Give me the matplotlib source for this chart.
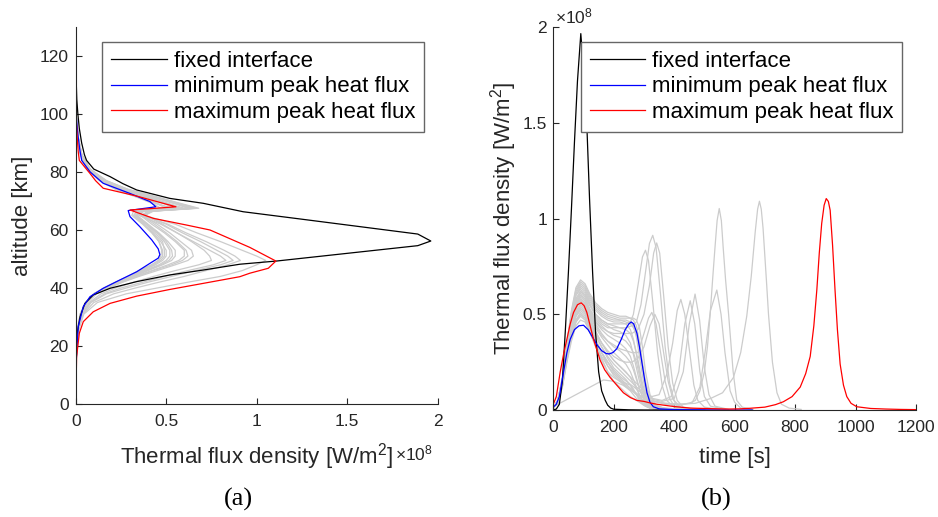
import matplotlib
matplotlib.use("Agg")
import matplotlib.pyplot as plt

plt.rcParams['font.family'] = ['Liberation Sans', 'DejaVu Sans']
plt.rcParams['mathtext.fontset'] = 'custom'
plt.rcParams['mathtext.rm'] = 'Liberation Sans'
plt.rcParams['mathtext.it'] = 'Liberation Sans:italic'
plt.rcParams['mathtext.bf'] = 'Liberation Sans:bold'

# ---------------- panel (a): flux [1e8 W/m^2] against altitude [km]
alt_fixed = [130, 115, 105, 100, 95, 90, 86, 84, 81, 78.4, 76, 73.8, 70.9, 69.2, 66.3, 63.8, 58.6, 56.2,
             54.6, 49.3, 48.2, 46.2, 44.5, 42.2, 39.9, 37.6, 34.7, 30.1, 23.2, 15, 0]
flux_fixed = [0, 0.001, 0.006, 0.012, 0.02, 0.033, 0.048, 0.06, 0.1, 0.19, 0.26, 0.337, 0.52, 0.705, 0.925, 1.24,
              1.89, 1.962, 1.89, 1.11, 0.907, 0.705, 0.52, 0.337, 0.19, 0.097, 0.051, 0.024, 0.005, 0.001, 0]

alt_min = [99, 93, 88, 84, 80, 76.1, 72.6, 69.8, 68.0, 67.3, 66.7, 64.6, 61.1, 56.6, 53.5, 51.5, 50.3, 48.5,
           45.6, 42.8, 39.9, 37, 33.6, 26.7, 14, 0]
flux_min = [0.003, 0.012, 0.022, 0.033, 0.08, 0.152, 0.3, 0.41, 0.443, 0.36, 0.29, 0.3, 0.355, 0.42, 0.456,
            0.465, 0.456, 0.41, 0.337, 0.245, 0.152, 0.079, 0.042, 0.014, 0.002, 0]

alt_max = [98, 92, 87, 84, 79.5, 77, 74.4, 71.7, 68.0, 67.4, 66.9, 64.0, 61.7, 60.0, 54.0, 49.3, 46.8, 45.1,
           43.9, 41.6, 39.5, 37.2, 34.7, 31.8, 28.4, 24.4, 16.3, 0]
flux_max = [0.003, 0.008, 0.014, 0.02, 0.079, 0.11, 0.152, 0.337, 0.554, 0.42, 0.3, 0.43, 0.613, 0.742, 0.962,
            1.106, 1.064, 0.962, 0.907, 0.705, 0.52, 0.337, 0.19, 0.097, 0.042, 0.02, 0.005, 0]

alt_grid = [100, 92, 86, 81, 77, 74, 71, 69, 67.5, 66.5, 65, 62, 59, 56, 53, 51, 49.5, 48, 46, 44, 42, 40,
            38, 35, 31, 25, 15, 0]
gray_alt_flux = [
    [0.002, 0.01, 0.025, 0.06, 0.13, 0.22, 0.35, 0.43, 0.47, 0.32, 0.31, 0.37, 0.42, 0.46, 0.48, 0.48, 0.46, 0.42, 0.35, 0.29, 0.22, 0.155, 0.10, 0.055, 0.025, 0.008, 0.002, 0],
    [0.002, 0.011, 0.027, 0.065, 0.14, 0.24, 0.37, 0.45, 0.50, 0.34, 0.32, 0.38, 0.43, 0.47, 0.50, 0.50, 0.48, 0.44, 0.37, 0.30, 0.23, 0.16, 0.10, 0.056, 0.026, 0.008, 0.002, 0],
    [0.002, 0.012, 0.03, 0.07, 0.15, 0.25, 0.40, 0.49, 0.55, 0.36, 0.33, 0.39, 0.45, 0.49, 0.52, 0.52, 0.50, 0.46, 0.38, 0.31, 0.235, 0.165, 0.105, 0.058, 0.027, 0.009, 0.002, 0],
    [0.002, 0.012, 0.03, 0.07, 0.15, 0.26, 0.42, 0.52, 0.60, 0.38, 0.34, 0.40, 0.46, 0.51, 0.55, 0.55, 0.53, 0.48, 0.40, 0.32, 0.24, 0.17, 0.11, 0.06, 0.028, 0.009, 0.002, 0],
    [0.002, 0.013, 0.032, 0.075, 0.16, 0.27, 0.44, 0.55, 0.62, 0.40, 0.36, 0.42, 0.49, 0.55, 0.60, 0.60, 0.57, 0.51, 0.42, 0.33, 0.25, 0.175, 0.11, 0.062, 0.03, 0.01, 0.002, 0],
    [0.002, 0.013, 0.033, 0.078, 0.16, 0.28, 0.46, 0.57, 0.65, 0.42, 0.37, 0.45, 0.52, 0.58, 0.64, 0.65, 0.62, 0.55, 0.45, 0.35, 0.26, 0.18, 0.115, 0.065, 0.03, 0.01, 0.002, 0],
    [0.002, 0.014, 0.034, 0.08, 0.17, 0.29, 0.47, 0.59, 0.68, 0.43, 0.38, 0.48, 0.56, 0.64, 0.71, 0.74, 0.75, 0.68, 0.55, 0.43, 0.32, 0.22, 0.14, 0.075, 0.034, 0.011, 0.002, 0],
    [0.002, 0.012, 0.03, 0.07, 0.15, 0.26, 0.42, 0.51, 0.58, 0.37, 0.35, 0.47, 0.56, 0.65, 0.74, 0.80, 0.83, 0.76, 0.62, 0.49, 0.37, 0.25, 0.16, 0.08, 0.036, 0.012, 0.002, 0],
    [0.002, 0.013, 0.033, 0.078, 0.16, 0.28, 0.46, 0.57, 0.66, 0.42, 0.38, 0.50, 0.59, 0.69, 0.78, 0.84, 0.87, 0.80, 0.66, 0.53, 0.40, 0.28, 0.17, 0.085, 0.038, 0.012, 0.002, 0],
    [0.002, 0.013, 0.033, 0.077, 0.16, 0.28, 0.45, 0.56, 0.64, 0.41, 0.37, 0.51, 0.61, 0.72, 0.82, 0.88, 0.91, 0.84, 0.72, 0.60, 0.46, 0.33, 0.21, 0.10, 0.04, 0.013, 0.002, 0],
    [0.002, 0.014, 0.034, 0.08, 0.17, 0.29, 0.47, 0.58, 0.67, 0.42, 0.38, 0.55, 0.67, 0.80, 0.92, 1.00, 1.05, 1.00, 0.92, 0.80, 0.62, 0.45, 0.28, 0.12, 0.045, 0.014, 0.003, 0],
    [0.002, 0.011, 0.028, 0.066, 0.14, 0.24, 0.38, 0.46, 0.52, 0.35, 0.33, 0.39, 0.44, 0.48, 0.49, 0.49, 0.47, 0.43, 0.36, 0.30, 0.225, 0.16, 0.10, 0.056, 0.026, 0.008, 0.002, 0],
    [0.002, 0.012, 0.03, 0.07, 0.15, 0.255, 0.41, 0.50, 0.57, 0.37, 0.335, 0.395, 0.455, 0.50, 0.53, 0.535, 0.515, 0.47, 0.39, 0.315, 0.237, 0.167, 0.107, 0.059, 0.027, 0.009, 0.002, 0],
    [0.002, 0.013, 0.032, 0.076, 0.16, 0.275, 0.45, 0.56, 0.63, 0.41, 0.365, 0.435, 0.50, 0.56, 0.61, 0.62, 0.59, 0.53, 0.43, 0.34, 0.255, 0.178, 0.112, 0.063, 0.03, 0.01, 0.002, 0],
    [0.002, 0.011, 0.027, 0.064, 0.135, 0.23, 0.37, 0.45, 0.53, 0.34, 0.32, 0.375, 0.425, 0.46, 0.475, 0.47, 0.455, 0.42, 0.35, 0.29, 0.22, 0.155, 0.10, 0.055, 0.025, 0.008, 0.002, 0],
]

# ---------------- panel (b): flux [1e8 W/m^2] against time [s]
t_fixed = [0, 10, 20, 30, 40, 50, 60, 70, 80, 91, 100, 110, 120, 130, 140, 150, 160, 172, 180, 190, 200, 250, 300, 400]
q_fixed = [0, 0.005, 0.03, 0.15, 0.42, 0.72, 1.05, 1.4, 1.72, 1.967, 1.78, 1.53, 1.1, 0.72, 0.4, 0.2, 0.1, 0.05,
           0.025, 0.01, 0.004, 0.001, 0, 0]

t_min = [0, 10, 20, 34, 45, 56, 70, 85, 100, 115, 130, 145, 160, 175, 185, 197, 210, 225, 238, 250, 258, 266, 277,
         285, 293, 302, 310, 320, 331, 350, 400, 500, 600, 658]
q_min = [0.015, 0.03, 0.07, 0.2, 0.3, 0.37, 0.42, 0.44, 0.443, 0.42, 0.38, 0.34, 0.31, 0.295, 0.293, 0.30, 0.32,
         0.37, 0.42, 0.45, 0.46, 0.45, 0.40, 0.33, 0.25, 0.16, 0.09, 0.04, 0.017, 0.006, 0.002, 0.001, 0, 0]

t_max = [0, 10, 23, 35, 45, 56, 67, 80, 92, 102, 111, 122, 133, 145, 155, 170, 188, 210, 232, 255, 277, 300, 320,
         343, 400, 453, 520, 580, 618, 651, 700, 735, 761, 790, 817, 835, 850, 862, 872, 880, 888, 896, 903, 910,
         916, 924, 932, 940, 949, 960, 971, 985, 1004, 1050, 1100, 1150, 1200]
q_max = [0.03, 0.07, 0.2, 0.3, 0.37, 0.45, 0.51, 0.55, 0.56, 0.545, 0.51, 0.44, 0.37, 0.31, 0.26, 0.21, 0.17,
         0.13, 0.09, 0.065, 0.05, 0.045, 0.037, 0.03, 0.018, 0.01, 0.007, 0.005, 0.006, 0.009, 0.015, 0.028,
         0.043, 0.07, 0.12, 0.19, 0.28, 0.44, 0.63, 0.82, 0.975, 1.07, 1.105, 1.09, 1.044, 0.86, 0.63, 0.42,
         0.24, 0.13, 0.07, 0.035, 0.017, 0.008, 0.005, 0.003, 0.002]

# runs with a single hump and a plateau, on one time grid
t_grid = [0, 15, 30, 45, 60, 75, 90, 105, 120, 140, 160, 180, 200, 220, 240, 255, 265, 275, 285, 295, 305, 320,
          340, 370, 420, 500]
gray_q_grid = [
    [0.01, 0.05, 0.17, 0.35, 0.52, 0.64, 0.68, 0.66, 0.61, 0.56, 0.53, 0.51, 0.50, 0.49, 0.49, 0.48, 0.47, 0.44, 0.36, 0.25, 0.15, 0.06, 0.02, 0.008, 0.003, 0.001],
    [0.01, 0.05, 0.16, 0.34, 0.50, 0.62, 0.66, 0.64, 0.59, 0.54, 0.51, 0.49, 0.48, 0.47, 0.47, 0.46, 0.44, 0.38, 0.28, 0.18, 0.10, 0.04, 0.015, 0.006, 0.002, 0.001],
    [0.01, 0.05, 0.16, 0.33, 0.49, 0.60, 0.64, 0.62, 0.57, 0.52, 0.49, 0.47, 0.46, 0.46, 0.45, 0.42, 0.37, 0.29, 0.20, 0.12, 0.07, 0.03, 0.012, 0.005, 0.002, 0.001],
    [0.01, 0.05, 0.15, 0.32, 0.47, 0.58, 0.62, 0.60, 0.55, 0.49, 0.46, 0.44, 0.42, 0.41, 0.39, 0.35, 0.29, 0.22, 0.15, 0.09, 0.05, 0.02, 0.01, 0.004, 0.002, 0.001],
    [0.01, 0.04, 0.15, 0.31, 0.46, 0.56, 0.60, 0.58, 0.52, 0.46, 0.42, 0.39, 0.37, 0.35, 0.32, 0.28, 0.23, 0.17, 0.11, 0.07, 0.04, 0.018, 0.008, 0.003, 0.001, 0],
    [0.01, 0.04, 0.14, 0.30, 0.44, 0.54, 0.58, 0.56, 0.50, 0.43, 0.38, 0.34, 0.30, 0.27, 0.24, 0.20, 0.16, 0.12, 0.08, 0.05, 0.03, 0.014, 0.006, 0.003, 0.001, 0],
    [0.01, 0.04, 0.14, 0.29, 0.42, 0.52, 0.55, 0.53, 0.47, 0.39, 0.33, 0.27, 0.22, 0.19, 0.16, 0.13, 0.10, 0.08, 0.06, 0.04, 0.025, 0.012, 0.005, 0.002, 0.001, 0],
    [0.01, 0.04, 0.13, 0.27, 0.40, 0.49, 0.52, 0.50, 0.44, 0.35, 0.27, 0.20, 0.15, 0.12, 0.09, 0.07, 0.06, 0.05, 0.04, 0.03, 0.02, 0.01, 0.005, 0.002, 0.001, 0],
    [0.01, 0.04, 0.13, 0.26, 0.38, 0.46, 0.49, 0.47, 0.41, 0.33, 0.26, 0.20, 0.17, 0.15, 0.14, 0.13, 0.11, 0.08, 0.05, 0.03, 0.02, 0.01, 0.004, 0.002, 0.001, 0],
    [0.01, 0.05, 0.16, 0.33, 0.49, 0.60, 0.63, 0.61, 0.56, 0.50, 0.47, 0.45, 0.44, 0.43, 0.42, 0.40, 0.36, 0.30, 0.22, 0.14, 0.08, 0.03, 0.012, 0.005, 0.002, 0.001],
    [0.01, 0.05, 0.17, 0.35, 0.51, 0.63, 0.67, 0.65, 0.60, 0.55, 0.52, 0.50, 0.49, 0.48, 0.48, 0.48, 0.48, 0.47, 0.43, 0.33, 0.20, 0.08, 0.025, 0.008, 0.003, 0.001],
    [0.01, 0.05, 0.16, 0.34, 0.50, 0.61, 0.65, 0.63, 0.58, 0.53, 0.50, 0.48, 0.47, 0.47, 0.46, 0.45, 0.43, 0.40, 0.33, 0.23, 0.14, 0.05, 0.018, 0.007, 0.002, 0.001],
    [0.01, 0.05, 0.15, 0.32, 0.47, 0.57, 0.61, 0.59, 0.53, 0.47, 0.44, 0.41, 0.39, 0.38, 0.36, 0.33, 0.30, 0.25, 0.18, 0.11, 0.06, 0.025, 0.01, 0.004, 0.002, 0.001],
    [0.01, 0.04, 0.15, 0.31, 0.45, 0.55, 0.59, 0.57, 0.51, 0.45, 0.40, 0.36, 0.33, 0.31, 0.28, 0.25, 0.21, 0.16, 0.11, 0.07, 0.04, 0.018, 0.008, 0.003, 0.001, 0],
    [0.01, 0.04, 0.14, 0.29, 0.43, 0.53, 0.57, 0.55, 0.49, 0.41, 0.35, 0.30, 0.26, 0.23, 0.20, 0.17, 0.14, 0.11, 0.08, 0.05, 0.03, 0.014, 0.006, 0.003, 0.001, 0],
    [0.01, 0.04, 0.13, 0.28, 0.41, 0.50, 0.54, 0.52, 0.46, 0.37, 0.30, 0.23, 0.18, 0.15, 0.12, 0.10, 0.08, 0.06, 0.05, 0.035, 0.022, 0.011, 0.005, 0.002, 0.001, 0],
]

# runs with a second (later) peak, each with its own times
gray_t_late = [
    [0, 15, 30, 45, 60, 75, 90, 105, 120, 140, 160, 180, 200, 220, 240, 255, 265, 280, 295, 305, 315, 330, 345, 360, 375, 400, 450],
    [0, 15, 30, 45, 60, 75, 90, 105, 120, 140, 160, 180, 200, 220, 240, 260, 275, 290, 305, 318, 329, 340, 355, 370, 385, 400, 420, 470],
    [0, 15, 30, 45, 60, 75, 90, 105, 120, 140, 160, 180, 200, 220, 240, 260, 280, 300, 318, 332, 342, 352, 365, 380, 395, 410, 430, 480],
    [0, 15, 30, 45, 60, 75, 90, 105, 120, 140, 160, 180, 200, 220, 240, 260, 280, 300, 315, 326, 340, 355, 370, 385, 400, 450],
    [0, 15, 30, 45, 60, 75, 90, 105, 120, 140, 160, 180, 200, 220, 240, 260, 280, 300, 320, 336, 350, 365, 380, 395, 410, 450],
    [0, 15, 30, 45, 60, 75, 90, 105, 120, 140, 160, 180, 200, 225, 250, 275, 300, 325, 350, 376, 395, 410, 422, 435, 453, 465, 478, 500, 550],
    [0, 15, 30, 45, 60, 75, 90, 105, 120, 140, 160, 180, 200, 225, 250, 275, 300, 330, 360, 390, 415, 435, 453, 468, 485, 500, 520, 570],
    [0, 15, 30, 45, 60, 75, 90, 105, 120, 140, 160, 180, 200, 225, 250, 275, 300, 330, 360, 400, 430, 450, 469, 484, 500, 515, 535, 580],
    [0, 15, 30, 45, 60, 75, 90, 105, 120, 140, 160, 180, 200, 225, 250, 280, 320, 370, 420, 460, 485, 502, 520, 541, 555, 568, 585, 600, 620, 660],
    [0, 15, 30, 45, 60, 75, 90, 105, 120, 140, 160, 180, 200, 225, 250, 280, 320, 370, 420, 450, 470, 485, 500, 510, 519, 527, 535, 542, 549, 556, 562, 570, 580, 595, 607, 625, 660],
    [0, 15, 30, 45, 60, 75, 90, 105, 120, 140, 160, 180, 200, 225, 250, 280, 320, 370, 420, 470, 520, 560, 596, 620, 640, 655, 668, 676, 682, 688, 694, 705, 712, 725, 740, 755, 780, 820],
    [0, 166, 200, 230, 260, 290, 320, 360, 420, 500],
]
gray_q_late = [
    [0.01, 0.05, 0.16, 0.33, 0.48, 0.58, 0.62, 0.60, 0.55, 0.50, 0.47, 0.45, 0.45, 0.45, 0.45, 0.46, 0.50, 0.65, 0.80, 0.835, 0.78, 0.55, 0.30, 0.13, 0.05, 0.015, 0.003],
    [0.01, 0.05, 0.15, 0.32, 0.46, 0.56, 0.60, 0.58, 0.53, 0.48, 0.45, 0.43, 0.43, 0.43, 0.43, 0.44, 0.46, 0.55, 0.72, 0.87, 0.913, 0.85, 0.60, 0.33, 0.14, 0.05, 0.015, 0.003],
    [0.01, 0.05, 0.15, 0.31, 0.45, 0.55, 0.58, 0.56, 0.51, 0.46, 0.43, 0.41, 0.40, 0.40, 0.40, 0.40, 0.42, 0.50, 0.65, 0.82, 0.873, 0.82, 0.60, 0.33, 0.14, 0.05, 0.015, 0.003],
    [0.01, 0.04, 0.14, 0.30, 0.44, 0.53, 0.57, 0.55, 0.50, 0.44, 0.39, 0.36, 0.34, 0.32, 0.31, 0.30, 0.30, 0.40, 0.48, 0.51, 0.45, 0.30, 0.15, 0.06, 0.02, 0.004],
    [0.01, 0.04, 0.13, 0.28, 0.41, 0.50, 0.53, 0.51, 0.46, 0.40, 0.35, 0.31, 0.28, 0.26, 0.25, 0.25, 0.27, 0.33, 0.44, 0.50, 0.45, 0.30, 0.15, 0.06, 0.02, 0.004],
    [0.01, 0.04, 0.14, 0.29, 0.42, 0.51, 0.55, 0.53, 0.48, 0.41, 0.35, 0.30, 0.26, 0.22, 0.18, 0.14, 0.10, 0.07, 0.08, 0.19, 0.35, 0.52, 0.578, 0.50, 0.28, 0.13, 0.05, 0.015, 0.003],
    [0.01, 0.04, 0.13, 0.28, 0.41, 0.49, 0.53, 0.51, 0.46, 0.39, 0.33, 0.28, 0.24, 0.20, 0.16, 0.12, 0.09, 0.06, 0.05, 0.07, 0.20, 0.45, 0.571, 0.45, 0.20, 0.07, 0.02, 0.003],
    [0.01, 0.04, 0.13, 0.27, 0.39, 0.47, 0.50, 0.48, 0.43, 0.36, 0.30, 0.25, 0.21, 0.17, 0.14, 0.11, 0.08, 0.055, 0.045, 0.06, 0.20, 0.45, 0.606, 0.47, 0.22, 0.08, 0.02, 0.003],
    [0.01, 0.04, 0.13, 0.27, 0.39, 0.47, 0.51, 0.49, 0.44, 0.37, 0.30, 0.25, 0.20, 0.16, 0.12, 0.08, 0.05, 0.03, 0.025, 0.04, 0.12, 0.30, 0.52, 0.627, 0.50, 0.30, 0.10, 0.04, 0.01, 0.002],
    [0.01, 0.04, 0.12, 0.26, 0.38, 0.46, 0.50, 0.48, 0.43, 0.36, 0.30, 0.25, 0.20, 0.16, 0.12, 0.08, 0.05, 0.035, 0.03, 0.035, 0.05, 0.10, 0.20, 0.33, 0.50, 0.68, 0.85, 0.99, 1.053, 0.99, 0.85, 0.68, 0.50, 0.20, 0.05, 0.015, 0.003],
    [0.01, 0.04, 0.12, 0.25, 0.36, 0.44, 0.47, 0.46, 0.41, 0.34, 0.28, 0.23, 0.19, 0.15, 0.11, 0.08, 0.05, 0.035, 0.03, 0.035, 0.06, 0.09, 0.17, 0.30, 0.49, 0.70, 0.93, 1.05, 1.091, 1.05, 0.95, 0.68, 0.50, 0.25, 0.09, 0.03, 0.01, 0.003],
    [0.017, 0.157, 0.15, 0.13, 0.10, 0.06, 0.03, 0.012, 0.004, 0.001],
]

labels = ["fixed interface", "minimum peak heat flux", "maximum peak heat flux"]

GRAY = '#cccccc'
AXC = '#262626'
LW = 0.9
W, H = 938, 517


def style(ax, ypad):
    for s in ['top', 'right']:
        ax.spines[s].set_visible(False)
    for s in ['left', 'bottom']:
        ax.spines[s].set_color(AXC)
        ax.spines[s].set_linewidth(0.8)
    ax.tick_params(direction='in', length=4, width=0.8, colors=AXC, labelsize=12.5)
    ax.tick_params(axis='x', pad=7)
    ax.tick_params(axis='y', pad=ypad)


def add_legend(ax, handles, anchor):
    leg = ax.legend(handles, labels, loc='upper right', bbox_to_anchor=anchor, fontsize=16,
                    fancybox=False, framealpha=1, edgecolor='#666666', handlelength=2.5,
                    handletextpad=0.3, labelspacing=0.2, borderpad=0.4, borderaxespad=0)
    leg.get_frame().set_linewidth(1.0)


fig = plt.figure(figsize=(W / 100, H / 100), dpi=100)

# (a)
ax1 = fig.add_axes([75.7 / W, 1 - 404 / H, 362 / W, 377 / H])
for q in gray_alt_flux:
    ax1.plot(q, alt_grid, color=GRAY, lw=LW)
h1, = ax1.plot(flux_fixed, alt_fixed, color='k', lw=LW)
h2, = ax1.plot(flux_min, alt_min, color='b', lw=LW)
h3, = ax1.plot(flux_max, alt_max, color='r', lw=LW)
ax1.set_xlim(0, 2)
ax1.set_ylim(0, 130)
ax1.set_xticks([0, 0.5, 1, 1.5, 2])
ax1.set_xticklabels(['0', '0.5', '1', '1.5', '2'])
ax1.set_yticks([0, 20, 40, 60, 80, 100, 120])
style(ax1, 5)
ax1.set_ylabel('altitude [km]', fontsize=16, color=AXC, labelpad=5)
ax1.set_xlabel(r'Thermal flux density [W/m$^2$]', fontsize=16, color=AXC, labelpad=9)
add_legend(ax1, [h1, h2, h3], (0.962, 0.960))
fig.text(395 / W, 1 - 453 / H, r'$\times10^{8}$', fontsize=12.5, color=AXC, ha='left', va='center')

# (b)
ax2 = fig.add_axes([553.3 / W, 1 - 410 / H, 362.7 / W, 382.7 / H])
for q in gray_q_grid:
    ax2.plot(t_grid, q, color=GRAY, lw=LW)
for t, q in zip(gray_t_late, gray_q_late):
    ax2.plot(t, q, color=GRAY, lw=LW)
g1, = ax2.plot(t_fixed, q_fixed, color='k', lw=LW)
g2, = ax2.plot(t_min, q_min, color='b', lw=LW)
g3, = ax2.plot(t_max, q_max, color='r', lw=LW)
ax2.set_xlim(0, 1200)
ax2.set_ylim(0, 2)
ax2.set_xticks([0, 200, 400, 600, 800, 1000, 1200])
ax2.set_yticks([0, 0.5, 1, 1.5, 2])
ax2.set_yticklabels(['0', '0.5', '1', '1.5', '2'])
style(ax2, 4.5)
ax2.set_xlabel('time [s]', fontsize=16, color=AXC, labelpad=9)
ax2.set_ylabel(r'Thermal flux density [W/m$^2$]', fontsize=16, color=AXC, labelpad=3)
add_legend(ax2, [g1, g2, g3], (0.962, 0.9616))
fig.text(555 / W, 1 - 16 / H, r'$\times10^{8}$', fontsize=12.5, color=AXC, ha='left', va='center')

# captions
fig.text(238 / W, 1 - 499 / H, '(a)', fontsize=19, family='Liberation Serif', ha='center', va='center')
fig.text(716.7 / W, 1 - 499 / H, '(b)', fontsize=19, family='Liberation Serif', ha='center', va='center')

fig.savefig('out.png', dpi=100)
